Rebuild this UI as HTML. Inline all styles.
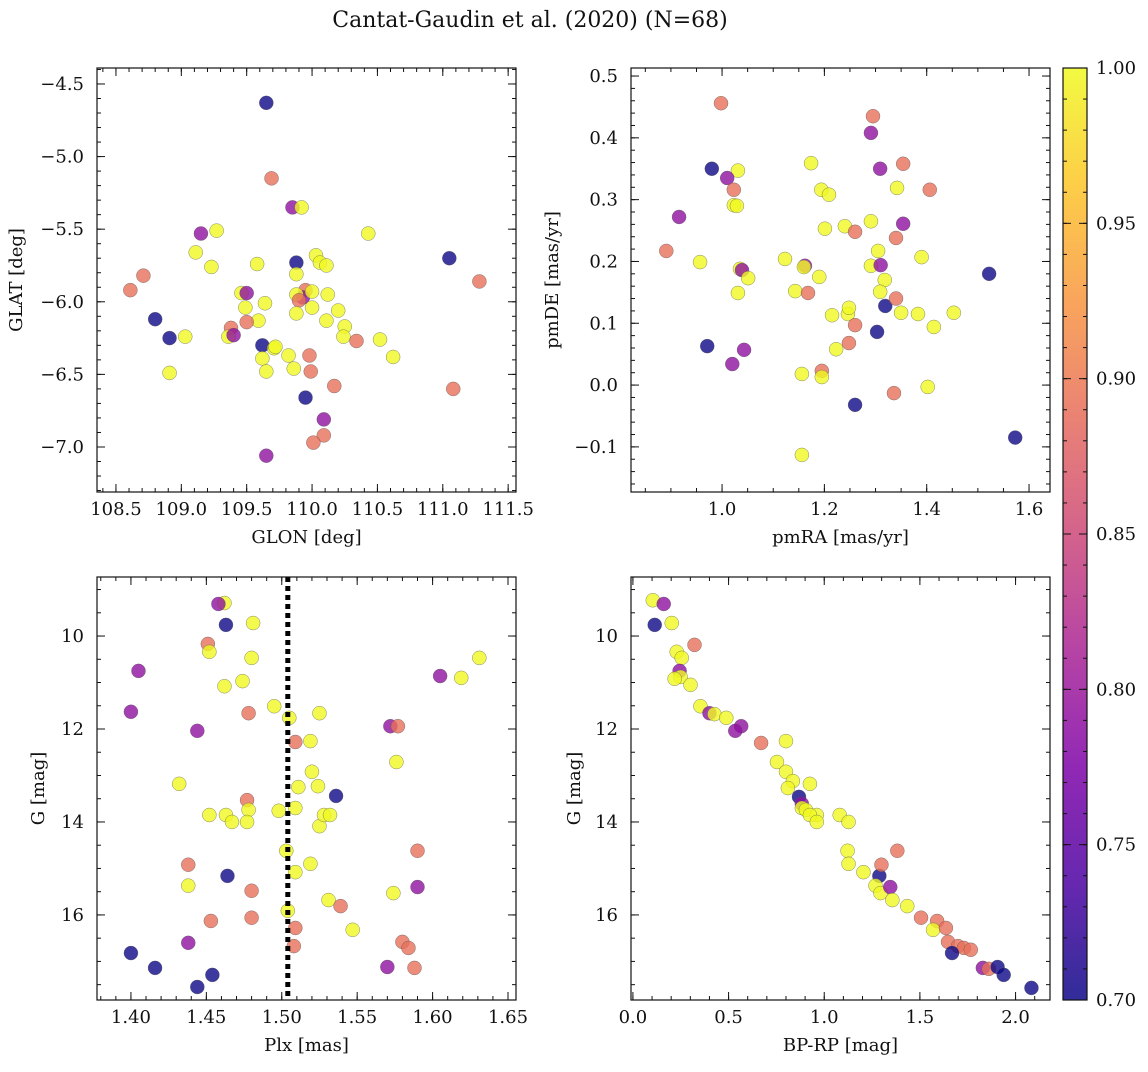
<!DOCTYPE html>
<html><head><meta charset="utf-8">
<style>
html,body{margin:0;padding:0;background:#fff;}
svg text{font-family:"DejaVu Serif","Liberation Serif",serif;fill:#111;}
</style></head>
<body>
<svg id="fig" width="1148" height="1067" viewBox="0 0 1148 1067" xmlns="http://www.w3.org/2000/svg">
<defs>
<linearGradient id="plasma" x1="0" y1="1" x2="0" y2="0">
<stop offset="0" stop-color="#0d0887"/><stop offset="0.125" stop-color="#4c02a1"/><stop offset="0.25" stop-color="#7e03a8"/><stop offset="0.375" stop-color="#a92395"/><stop offset="0.5" stop-color="#cc4778"/><stop offset="0.625" stop-color="#e66c5c"/><stop offset="0.75" stop-color="#f89540"/><stop offset="0.875" stop-color="#fdc527"/><stop offset="1" stop-color="#f0f921"/>
</linearGradient>
</defs>
<text x="530" y="27" font-size="22" text-anchor="middle">Cantat-Gaudin et al. (2020) (N=68)</text>
</svg>
<script>
// ---- Panel 1: GLON vs GLAT ----
const glon1 = [109.65,109.69,109.85,109.92,109.15,109.27,110.43,111.05,111.28,108.61,108.71,109.11,109.23,109.58,109.88,110.03,110.06,110.11,109.88,109.46,109.50,109.95,109.93,109.88,109.90,110.00,110.00,109.88,110.12,110.20,110.11,110.25,110.24,109.64,109.49,109.59,109.50,108.80,108.91,108.91,109.03,109.38,109.36,109.40,109.62,109.62,109.71,109.72,109.82,109.86,109.65,109.98,110.52,110.34,110.62,109.99,109.95,110.17,111.08,110.09,110.09,110.01,109.65];
const glat1 = [-4.63,-5.15,-5.35,-5.35,-5.53,-5.51,-5.53,-5.70,-5.86,-5.92,-5.82,-5.66,-5.76,-5.74,-5.73,-5.68,-5.73,-5.75,-5.81,-5.94,-5.94,-5.92,-5.97,-5.95,-5.99,-5.93,-6.04,-6.08,-5.95,-6.06,-6.13,-6.17,-6.24,-6.01,-6.04,-6.13,-6.14,-6.12,-6.25,-6.49,-6.24,-6.18,-6.24,-6.23,-6.30,-6.39,-6.32,-6.31,-6.37,-6.46,-6.48,-6.37,-6.26,-6.27,-6.38,-6.48,-6.66,-6.58,-6.60,-6.81,-6.92,-6.97,-7.06];
const prob1 = [.70,.89,.79,1,.79,1,1,.70,.89,.89,.89,1,1,1,.70,1,1,1,1,1,.79,.89,.79,1,.89,1,1,1,1,1,1,1,1,1,1,1,.89,.70,.70,1,1,.89,1,.79,.70,1,1,1,1,1,1,.89,1,.89,1,.89,.70,.89,.89,.79,.89,.89,.79];
// ---- Panel 2: pmRA vs pmDE ----
const pmra2 = [0.998,1.295,1.291,0.980,1.031,1.010,1.174,1.309,1.354,1.023,1.342,1.406,1.194,1.209,1.023,1.029,0.916,1.354,1.291,1.201,1.240,1.260,0.891,1.305,1.340,1.123,0.957,1.162,1.160,1.291,1.310,1.390,1.035,1.039,1.051,1.190,1.318,1.031,1.143,1.168,1.309,1.319,1.215,1.246,1.248,1.350,1.383,1.453,1.414,1.340,1.260,1.303,1.248,1.223,0.971,1.043,1.020,1.195,1.195,1.156,1.402,1.336,1.260,1.156,1.573,1.522];
const pmde2 = [0.456,0.435,0.408,0.350,0.347,0.335,0.359,0.350,0.358,0.316,0.319,0.316,0.316,0.308,0.291,0.290,0.272,0.261,0.265,0.253,0.257,0.248,0.217,0.217,0.238,0.204,0.199,0.193,0.191,0.193,0.194,0.207,0.188,0.186,0.173,0.175,0.170,0.149,0.152,0.149,0.151,0.128,0.113,0.115,0.125,0.117,0.115,0.117,0.094,0.140,0.097,0.086,0.068,0.058,0.063,0.057,0.034,0.023,0.013,0.018,-0.003,-0.013,-0.032,-0.113,-0.085,0.180];
const prob2 = [.89,.89,.79,.70,1,.79,1,.79,.89,.89,1,.89,1,1,1,1,.79,.79,1,1,1,.89,.89,1,.89,1,1,.79,1,1,.79,1,1,.79,1,1,1,1,1,.89,1,.70,1,1,1,1,1,1,1,.89,.89,.70,.89,1,.70,.79,.79,.89,1,1,1,.89,.70,1,.70,.70];
// ---- Panel 3: Plx vs G ----
const plx3 = [1.462,1.458,1.481,1.463,1.451,1.452,1.480,1.405,1.462,1.474,1.605,1.619,1.631,1.400,1.478,1.495,1.505,1.525,1.444,1.509,1.519,1.572,1.577,1.576,1.432,1.511,1.524,1.520,1.536,1.477,1.478,1.509,1.498,1.452,1.463,1.467,1.477,1.525,1.528,1.532,1.503,1.590,1.438,1.438,1.464,1.519,1.509,1.480,1.590,1.574,1.531,1.539,1.504,1.480,1.453,1.509,1.547,1.508,1.438,1.580,1.584,1.400,1.416,1.570,1.588,1.454,1.444];
const g3 = [9.29,9.31,9.72,9.76,10.17,10.34,10.47,10.75,11.08,10.97,10.86,10.90,10.47,11.63,11.66,11.51,11.76,11.66,12.04,12.28,12.26,11.94,11.94,12.71,13.18,13.25,13.23,12.92,13.44,13.53,13.74,13.70,13.76,13.85,13.85,14.00,14.00,14.09,13.85,13.85,14.62,14.62,14.92,15.37,15.16,14.90,15.08,15.48,15.40,15.53,15.68,15.81,15.91,16.06,16.13,16.28,16.32,16.67,16.60,16.58,16.71,16.82,17.14,17.12,17.14,17.29,17.55];
const prob3 = [1,.79,1,.70,.89,1,1,.79,1,1,.79,1,1,.79,.89,1,1,1,.79,.89,1,.79,.89,1,1,1,1,1,.70,.89,1,1,1,1,1,1,1,1,1,1,1,.89,.89,1,.70,1,1,.89,.79,1,1,.89,1,.89,.89,.89,1,.89,.79,.89,.89,.70,.70,.79,.89,.70,.70];
const plxRef = 1.504;
// ---- Panel 4: BP-RP vs G ----
const bprp4 = [0.104,0.161,0.114,0.203,0.322,0.229,0.255,0.244,0.249,0.218,0.301,0.353,0.400,0.426,0.488,0.566,0.535,0.670,0.800,0.753,0.800,0.836,0.925,0.810,0.868,0.883,0.883,0.904,0.961,0.925,0.961,1.081,1.127,1.122,1.127,1.288,1.299,1.382,1.205,1.268,1.294,1.345,1.356,1.434,1.506,1.590,1.569,1.636,1.647,1.699,1.730,1.668,1.766,1.829,1.860,1.906,1.938,2.083];
const g4 = [9.23,9.31,9.76,9.72,10.19,10.34,10.47,10.75,10.88,10.92,11.05,11.51,11.66,11.68,11.76,11.94,12.04,12.30,12.26,12.71,12.92,13.12,13.18,13.27,13.46,13.61,13.70,13.74,13.85,13.85,14.00,13.85,14.00,14.62,14.90,15.16,14.92,14.62,15.08,15.37,15.53,15.40,15.68,15.81,16.06,16.13,16.32,16.28,16.58,16.67,16.71,16.82,16.75,17.14,17.16,17.12,17.29,17.57];
const prob4 = [1,.79,.70,1,.89,1,1,.79,1,1,1,1,.79,1,1,.79,.79,.89,1,1,1,1,1,1,.70,.79,1,1,1,1,1,1,1,1,1,.70,.89,.89,1,1,1,.79,1,1,.89,.89,1,.89,.89,.89,.89,.70,.89,.79,.89,.70,.70,.70];
// colorbar ticks
const cbTicks = [0.70,0.75,0.80,0.85,0.90,0.95,1.00];

const NS = "http://www.w3.org/2000/svg";
const svg = document.getElementById('fig');
const FS = 18;
function mk(tag, attrs, parent){ const e=document.createElementNS(NS,tag); for(const k in attrs) e.setAttribute(k,attrs[k]); (parent||svg).appendChild(e); return e; }

const stops=[[0,[13,8,135]],[0.125,[76,2,161]],[0.25,[126,3,168]],[0.375,[169,35,149]],[0.5,[204,71,120]],[0.625,[230,108,92]],[0.75,[248,149,64]],[0.875,[253,197,39]],[1,[240,249,33]]];
function plasma(p){ let t=Math.max(0,Math.min(1,(p-0.7)/0.3));
  for(let i=0;i<stops.length-1;i++){ if(t<=stops[i+1][0]){ const a=stops[i],b=stops[i+1],f=(t-a[0])/(b[0]-a[0]); const c=a[1].map((v,j)=>Math.round(v+(b[1][j]-v)*f)); return `rgb(${c})`; } }
  return 'rgb(240,249,33)'; }

function panel(o){
  const {name,L,T,R,B,xmin,xmax,ymin,ymax,invert,xMaj,xMin,yMaj,yMin,xfmt,yfmt,xlabel,ylabel,ylabX}=o;
  const g=mk('g',{});
  
  
  const sx=v=>L+(v-xmin)/(xmax-xmin)*(R-L);
  const sy=v=> invert ? T+(v-ymin)/(ymax-ymin)*(B-T) : B-(v-ymin)/(ymax-ymin)*(B-T);
  const ticks=(step,a0,b0)=>{const lo=Math.min(a0,b0),hi=Math.max(a0,b0);const a=[];const s=Math.ceil(lo/step-1e-6);for(let i=s;i*step<=hi+1e-9;i++)a.push(+(i*step).toFixed(6));return a;};
  const tg=mk('g',{stroke:'#111','stroke-width':1},g);
  ticks(xMin,xmin,xmax).forEach(v=>{const x=sx(v);mk('line',{x1:x,x2:x,y1:B,y2:B-4},tg);mk('line',{x1:x,x2:x,y1:T,y2:T+4},tg);});
  ticks(yMin,ymin,ymax).forEach(v=>{const y=sy(v);mk('line',{x1:L,x2:L+4,y1:y,y2:y},tg);mk('line',{x1:R,x2:R-4,y1:y,y2:y},tg);});
  ticks(xMaj,xmin,xmax).forEach(v=>{const x=sx(v);mk('line',{x1:x,x2:x,y1:B,y2:B-8},tg);mk('line',{x1:x,x2:x,y1:T,y2:T+8},tg);
    const t=mk('text',{x:x,y:B+23,'font-size':FS,'text-anchor':'middle'},g);t.textContent=xfmt(v);
    
    });
  ticks(yMaj,ymin,ymax).forEach(v=>{const y=sy(v);mk('line',{x1:L,x2:L+8,y1:y,y2:y},tg);mk('line',{x1:R,x2:R-8,y1:y,y2:y},tg);
    const t=mk('text',{x:L-13,y:y+6,'font-size':FS,'text-anchor':'end'},g);t.textContent=yfmt(v);
    
    });
  const xl=mk('text',{x:(L+R)/2,y:B+51,'font-size':FS,'text-anchor':'middle'},g);xl.textContent=xlabel;
  
  
  const cy=(T+B)/2;
  const yl=mk('text',{x:ylabX,y:cy,'font-size':FS,'text-anchor':'middle',transform:`rotate(-90 ${ylabX} ${cy})`},g);yl.textContent=ylabel;
  
  
  return {g,sx,sy,L,T,R,B};
}
function frame(p){ const r=mk('rect',{x:p.L,y:p.T,width:p.R-p.L,height:p.B-p.T,fill:'none',stroke:'#111','stroke-width':1.2},p.g);
  
   }
function scatter(p,xs,ys,ps){ const pg=mk('g',{},p.g);
  xs.forEach((x,i)=>{ const c=mk('circle',{cx:p.sx(x),cy:p.sy(ys[i]),r:7,fill:plasma(ps[i]),'fill-opacity':0.8,stroke:'#555','stroke-width':0.5,'stroke-opacity':0.7},pg);
    
     }); }

const f1=v=>v.toFixed(1).replace('-','\u2212'), f2=v=>v.toFixed(2), f0=v=>v.toFixed(0);
const p1=panel({name:'panel-glon-glat',L:97,T:68,R:516,B:492,xmin:108.355,xmax:111.56,ymin:-4.39,ymax:-7.31,invert:true,xMaj:0.5,xMin:0.1,yMaj:0.5,yMin:0.1,xfmt:f1,yfmt:f1,xlabel:'GLON [deg]',ylabel:'GLAT [deg]',ylabX:22});
scatter(p1,glon1,glat1,prob1); frame(p1);
const p2=panel({name:'panel-pm',L:631,T:68,R:1050,B:492,xmin:0.822,xmax:1.641,ymin:-0.173,ymax:0.513,invert:false,xMaj:0.2,xMin:0.05,yMaj:0.1,yMin:0.02,xfmt:f1,yfmt:v=>f1(v),xlabel:'pmRA [mas/yr]',ylabel:'pmDE [mas/yr]',ylabX:558});
scatter(p2,pmra2,pmde2,prob2); frame(p2);
const p3=panel({name:'panel-plx-g',L:97,T:577,R:516,B:1000,xmin:1.3775,xmax:1.6553,ymin:8.73,ymax:17.83,invert:true,xMaj:0.05,xMin:0.01,yMaj:2,yMin:0.5,xfmt:f2,yfmt:f0,xlabel:'Plx [mas]',ylabel:'G [mag]',ylabX:44});
scatter(p3,plx3,g3,prob3);
const ref=mk('line',{x1:p3.sx(plxRef),x2:p3.sx(plxRef),y1:577,y2:1000,stroke:'#000','stroke-width':5,'stroke-dasharray':'5 4'},p3.g);


frame(p3);
const p4=panel({name:'panel-cmd',L:631,T:577,R:1050,B:1000,xmin:-0.01,xmax:2.18,ymin:8.73,ymax:17.83,invert:true,xMaj:0.5,xMin:0.1,yMaj:2,yMin:0.5,xfmt:f1,yfmt:f0,xlabel:'BP-RP [mag]',ylabel:'G [mag]',ylabX:580});
scatter(p4,bprp4,g4,prob4); frame(p4);

// colorbar
const cb=mk('g',{});


const cT=68,cB=1000,cL=1063,cR=1087;
mk('rect',{x:cL,y:cT,width:cR-cL,height:cB-cT,fill:'url(#plasma)','fill-opacity':0.85},cb);
mk('rect',{x:cL,y:cT,width:cR-cL,height:cB-cT,fill:'none',stroke:'#111','stroke-width':1.2},cb);
const cy=v=>cB-(v-0.7)/0.3*(cB-cT);
for(let i=0;i<=30;i++){const v=0.7+i*0.01,y=cy(v);mk('line',{x1:cR,x2:cR-4,y1:y,y2:y,stroke:'#111'},cb);mk('line',{x1:cL,x2:cL+4,y1:y,y2:y,stroke:'#111'},cb);}
cbTicks.forEach(v=>{const y=cy(v);mk('line',{x1:cR,x2:cR-8,y1:y,y2:y,stroke:'#111'},cb);mk('line',{x1:cL,x2:cL+8,y1:y,y2:y,stroke:'#111'},cb);
  const t=mk('text',{x:cR+9,y:y+6,'font-size':FS},cb);t.textContent=v.toFixed(2);
  
  });
</script>
</body></html>
